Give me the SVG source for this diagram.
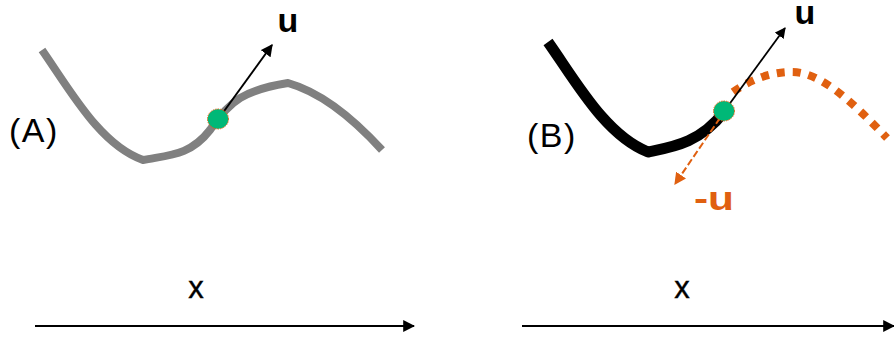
<svg xmlns="http://www.w3.org/2000/svg" width="894" height="337" viewBox="0 0 894 337">
<defs>
<marker id="ah" viewBox="0 0 10 10" refX="9" refY="5" markerWidth="6" markerHeight="6" orient="auto" markerUnits="strokeWidth"><path d="M0,0 L10,5 L0,10 z" fill="#000"/></marker>
<marker id="ahO" viewBox="0 0 10 10" refX="9" refY="5" markerWidth="6" markerHeight="6" orient="auto" markerUnits="strokeWidth"><path d="M0,0 L10,5 L0,10 z" fill="#e06010"/></marker>
<style>
.lbl{font-family:"Liberation Sans",Arial,sans-serif;fill:#000}
.big{font-size:34px;letter-spacing:1.5px}
.u{font-size:34px;font-weight:bold}
.ax{font-size:31px;stroke:#000;stroke-width:0.4}
.pt{fill:#00b877;stroke:#e06010;stroke-width:1;stroke-dasharray:1.5,1}
</style>
</defs>
<g id="panelA">
<path d="M42,50 C70,90 100,145 143,160 C168,155 190,156 210,130 C230,100 245,90 288,83 C320,92 350,115 382,150" fill="none" stroke="#808080" stroke-width="8" stroke-linejoin="round"/>
<text class="lbl big" x="9" y="142">(A)</text>
</g>
<g id="panelB">
<path d="M548,42 C575,80 605,135 648,152 C672,147 700,143 724,112" fill="none" stroke="#000" stroke-width="11" stroke-linejoin="round"/>
<path d="M733,92 C750,80 770,72 792,72 C822,72 855,105 887,138" fill="none" stroke="#e06010" stroke-width="8" stroke-dasharray="8,8"/>
<text class="lbl big" x="527" y="147">(B)</text>
</g>
<g id="connectors">
<line x1="222" y1="114" x2="272" y2="45" stroke="#000" stroke-width="2" marker-end="url(#ah)"/>
<line x1="728" y1="106" x2="785" y2="28" stroke="#000" stroke-width="1.8" marker-end="url(#ah)"/>
<line x1="720" y1="118" x2="675" y2="184" stroke="#e06010" stroke-width="2" stroke-dasharray="7,3" marker-end="url(#ahO)"/>
<line x1="35" y1="326" x2="414" y2="326" stroke="#000" stroke-width="2" marker-end="url(#ah)"/>
<line x1="522" y1="326" x2="894" y2="326" stroke="#000" stroke-width="2" marker-end="url(#ah)"/>
</g>
<g id="pointA"><ellipse class="pt" cx="218" cy="119" rx="10.5" ry="10"/></g>
<g id="pointB"><ellipse class="pt" cx="724" cy="111" rx="10.5" ry="10"/></g>
<g id="labels">
<text class="lbl u" x="288" y="32" text-anchor="middle">u</text>
<text class="lbl u" x="805" y="24" text-anchor="middle">u</text>
<text class="lbl u" x="694" y="210" style="fill:#e06010;font-size:33px" textLength="40" lengthAdjust="spacingAndGlyphs">-u</text>
<text class="lbl ax" x="196" y="298" text-anchor="middle">x</text>
<text class="lbl ax" x="682" y="298" text-anchor="middle">x</text>
</g>
</svg>
